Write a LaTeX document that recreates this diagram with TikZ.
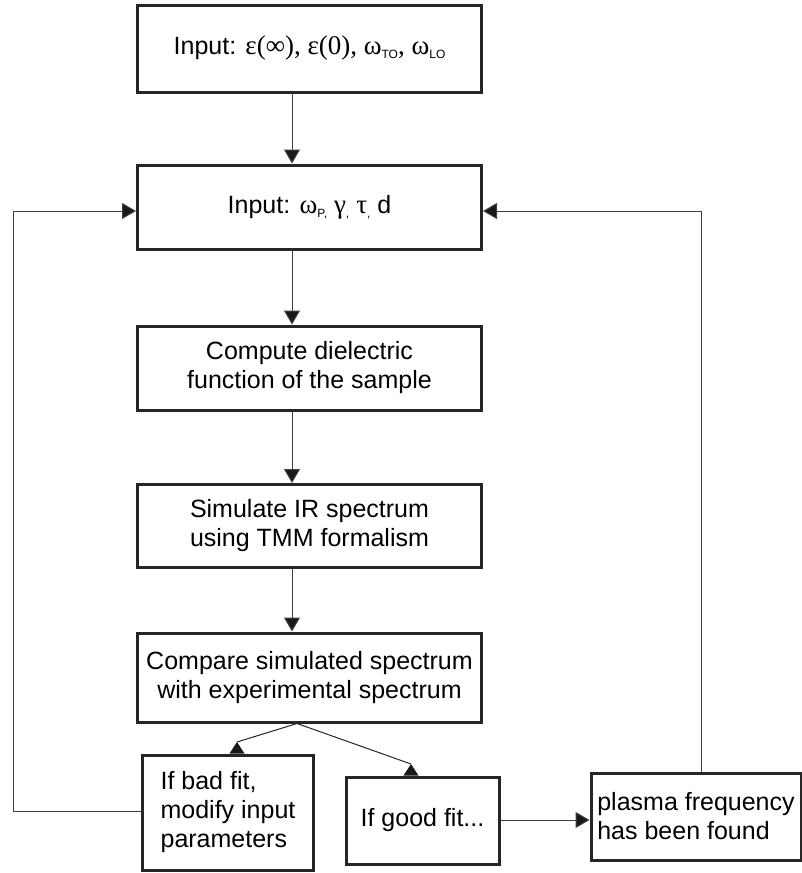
\documentclass[tikz,border=0pt]{standalone}
\usepackage{fontspec}
\setmainfont{Liberation Sans}
\newfontfamily\grk{Liberation Serif}[Scale=1.08]
\usetikzlibrary{arrows.meta}
\newcommand\sbx[1]{\raisebox{-0.3ex}{\fontsize{12}{12}\selectfont #1}}
\begin{document}
\begin{tikzpicture}[x=1pt,y=-1pt,
  box/.style={draw=black!85, line width=3pt, fill=white, inner sep=0pt, font=\fontsize{25}{29}\selectfont},
  conn/.style={draw=black!75, line width=1pt, -{Triangle[length=14pt,width=16pt,fill=black!90]}},
  link/.style={draw=black!85, line width=1pt},
  tip/.style={fill=black!90}]
\useasboundingbox (0,0) rectangle (802,873);
\node[box, minimum width=344pt, minimum height=87pt] (b1) at (309.5,48.5)
  {Input: {\grk ε(∞), ε(0), ω}\sbx{TO}{\grk , ω}\sbx{LO}};
\node[box, minimum width=344pt, minimum height=84pt] (b2) at (309.5,207)
  {Input: {\grk ω}\sbx{P,} {\grk γ}\sbx{,} {\grk τ}\sbx{,} d};
\node[box, minimum width=344pt, minimum height=84pt, align=center] (b3) at (309.5,368)
  {Compute dielectric\\function of the sample};
\node[box, minimum width=344pt, minimum height=83pt, align=center] (b4) at (309.5,526)
  {Simulate IR spectrum\\using TMM formalism};
\node[box, minimum width=344pt, minimum height=89pt, align=center] (b5) at (309.5,677.5)
  {Compare simulated spectrum\\with experimental spectrum};
\node[box, minimum width=171pt, minimum height=115pt, align=left] (bad) at (228,812.5)
  {If bad fit,\\modify input\\parameters};
\node[box, minimum width=153pt, minimum height=87pt] (good) at (422.5,820.5)
  {If good fit...};
\node[box, minimum width=210pt, minimum height=87pt, align=left] (pl) at (696,816.5)
  {plasma frequency\\has been found};
\coordinate (c1) at (292,0);
\draw[conn] (c1 |- b1.south) -- (c1 |- b2.north);
\draw[conn] (c1 |- b2.south) -- (c1 |- b3.north);
\draw[conn] (c1 |- b3.south) -- (c1 |- b4.north);
\draw[conn] (c1 |- b4.south) -- (c1 |- b5.north);
% split from the compare box to the two fit boxes
\coordinate (d0) at (297,0);
\coordinate (abad) at (237,742);
\coordinate (agood) at (411,764);
\coordinate (bbad) at (abad |- bad.north);
\coordinate (bgood) at (agood |- good.north);
\draw[link] (d0 |- b5.south) -- (abad);
\draw[link] (d0 |- b5.south) -- (agood);
\fill[tip] (abad) -- ([xshift=-7.5pt]bbad) -- ([xshift=7.5pt]bbad) -- cycle;
\fill[tip] (agood) -- ([xshift=-7.5pt]bgood) -- ([xshift=7.5pt]bgood) -- cycle;
% feedback loops
\coordinate (ly) at (0,211);
\coordinate (lx) at (13,811);
\draw[conn] (bad.west |- lx) -- (lx) -- (lx |- ly) -- (b2.west |- ly);
\coordinate (rx) at (701,0);
\draw[conn] (rx |- pl.north) -- (rx |- ly) -- (b2.east |- ly);
\coordinate (gy) at (0,820);
\draw[conn] (good.east |- gy) -- (pl.west |- gy);
\end{tikzpicture}
\end{document}
